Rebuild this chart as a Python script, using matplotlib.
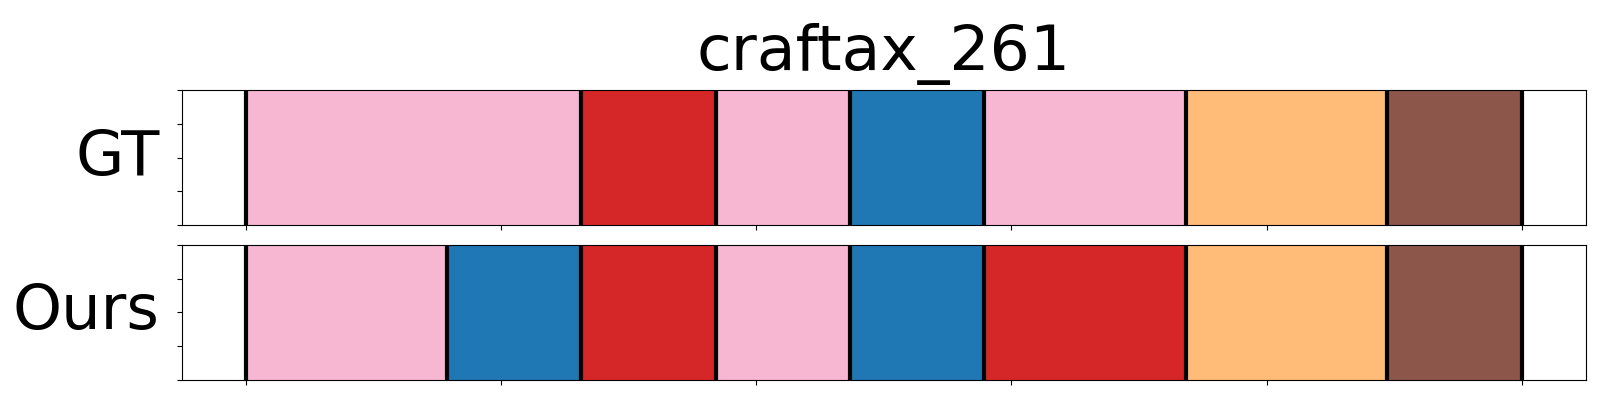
import numpy as np
import matplotlib
matplotlib.use("Agg")
import matplotlib.pyplot as plt

# Rótulo de cada passo (19 passos) para GT e previsão
title = "craftax_261"
row_names = ["GT", "Ours"]
gt_steps = ["pink"] * 5 + ["red"] * 2 + ["pink"] * 2 + ["blue"] * 2 + ["pink"] * 3 + ["orange"] * 3 + ["brown"] * 2
ours_steps = ["pink"] * 3 + ["blue"] * 2 + ["red"] * 2 + ["pink"] * 2 + ["blue"] * 2 + ["red"] * 3 + ["orange"] * 3 + ["brown"] * 2

palette = {
    "pink": "#f7b6d2",
    "red": "#d62728",
    "blue": "#1f77b4",
    "orange": "#ffbb78",
    "brown": "#8c564b",
}


def segmentos(passos):
    """Agrupa passos consecutivos iguais em (inicio, fim, rotulo)."""
    segs = []
    inicio = 0
    for i in range(1, len(passos) + 1):
        if i == len(passos) or passos[i] != passos[inicio]:
            segs.append((inicio, i, passos[inicio]))
            inicio = i
    return segs


fig, axes = plt.subplots(2, 1, figsize=(16, 4), dpi=100)
fig.subplots_adjust(left=0.1136, right=0.991, bottom=0.05, top=0.775, hspace=0.148)

for ax, nome, passos in zip(axes, row_names, [gt_steps, ours_steps]):
    total = len(passos)
    for ini, fim, rot in segmentos(passos):
        ax.axvspan(ini / total, fim / total, color=palette[rot], lw=0)
        ax.axvline(ini / total, color="black", lw=3)
    ax.axvline(1.0, color="black", lw=3)
    ax.set_xlim(-0.05, 1.05)
    ax.set_ylim(0, 1)
    ax.set_xticks(np.linspace(0, 1, 6))
    ax.set_yticks(np.linspace(0, 1, 5))
    ax.set_xticklabels([])
    ax.set_yticklabels([])
    ax.set_ylabel(nome, rotation=0, fontsize=45, ha="right", va="center", labelpad=9)

fig.suptitle(title, fontsize=45.5, y=0.825, va="baseline", x=0.552)
plt.savefig("out.png")
